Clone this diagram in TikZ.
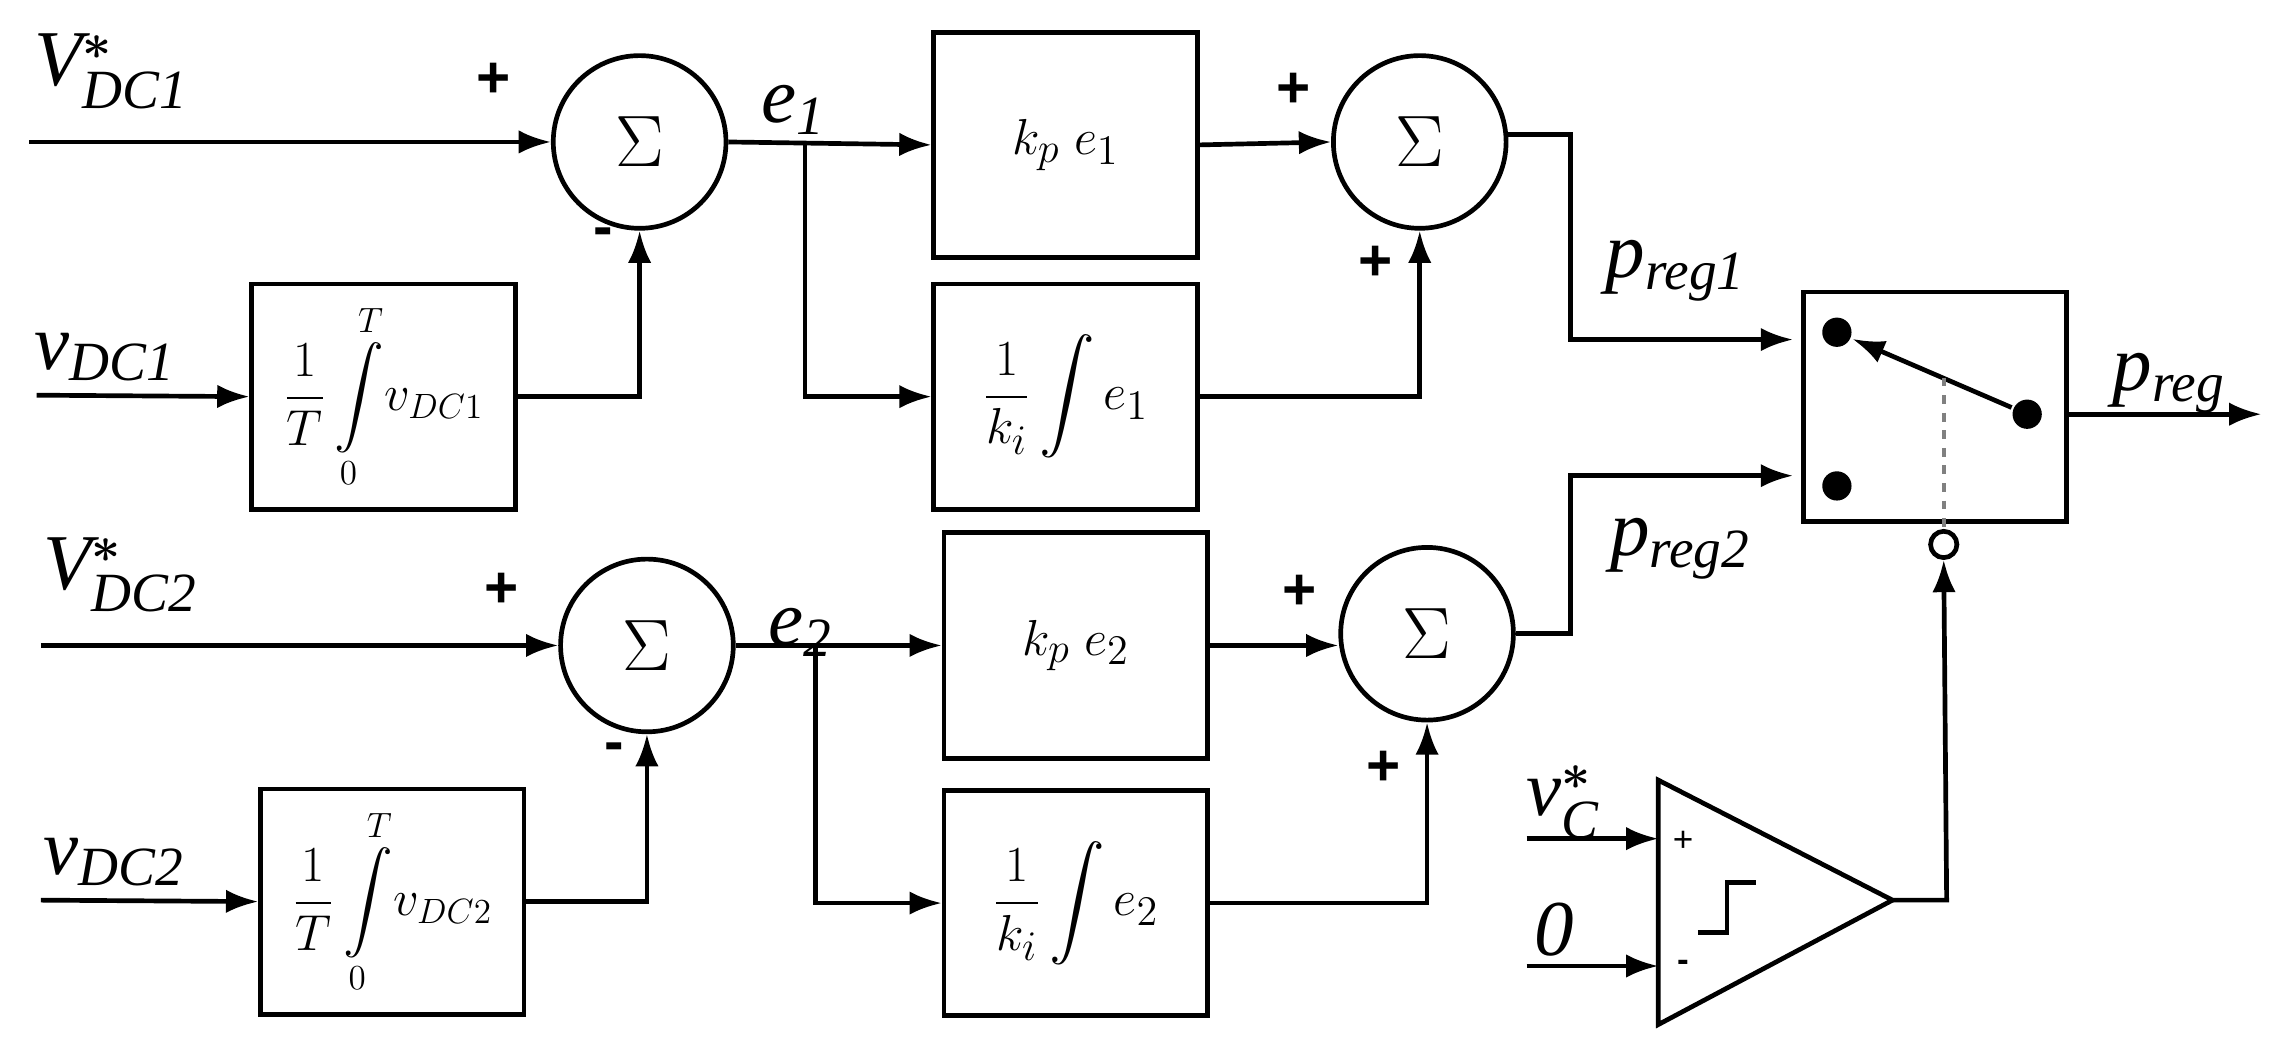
\documentclass[tikz,border=0pt]{standalone}
\usepackage{amsmath,amssymb}
\usepackage{fontspec}
\setmainfont{Liberation Serif}
\newfontfamily\sans{Liberation Sans}
\usetikzlibrary{arrows.meta}
\begin{document}
\begin{tikzpicture}[x=0.5pt,y=-0.5pt,line width=1.6pt,
  >={Latex[length=11pt,width=8pt]},
  sum/.style={circle,draw,minimum size=59pt,inner sep=0pt,font=\fontsize{34}{34}\selectfont},
  blk/.style={draw,minimum width=90pt,minimum height=77pt,inner sep=0pt,font=\fontsize{19}{20}\selectfont},
  lab/.style={font=\fontsize{27}{27}\selectfont\itshape,inner sep=0pt},
  sg/.style={font=\sans\bfseries\fontsize{20}{20}\selectfont,inner sep=0pt}]
\useasboundingbox (0,0) rectangle (1568,716);
% row 1
\node[sum] (s1) at (437,97) {$\Sigma$};
\node[sum] (s2) at (970,97) {$\Sigma$};
\node[blk] (kp1) at (728,99) {$k_{p}\;e_1$};
\node[blk] (ki1) at (728,271) {$\dfrac{1}{k_i}\displaystyle\int e_1$};
\node[blk,font=\fontsize{17}{18}\selectfont] (in1) at (262,271) {$\dfrac{1}{T}\displaystyle\int\limits_0^T\! v_{DC1}$};
\coordinate (a1) at (20,97);
\coordinate (b1) at (25,270);
\node[lab,anchor=south west] (L1) at (22,76) {V$^{\boldsymbol *}_{\textit{DC1}}$};
\node[lab,anchor=south west] (L2) at (22,262) {v$_{\textit{DC1}}$};
\draw[->] (a1) -- (s1.west);
\draw[->] (b1) -- (in1.west);
\draw[->] (in1.east) -| (s1.south);
\draw[->] (s1.east) -- (kp1.west);
\coordinate (br1) at (550,97);
\draw[->] (br1) |- (ki1.west);
\draw[->] (kp1.east) -- (s2.west);
\draw[->] (ki1.east) -| (s2.south);
\node[lab] (e1) at (542,75) {e$_{\textit{1}}$};
\node[sg] (p1) at (337,55) {+};
\node[sg] (m1) at (412,162) {-};
\node[sg] (p2) at (884,62) {+};
\node[sg] (p3) at (940,180) {+};
% row 2
\node[sum] (s3) at (442,441) {$\Sigma$};
\node[sum] (s4) at (975,433) {$\Sigma$};
\node[blk] (kp2) at (735,441) {$k_{p}\;e_2$};
\node[blk] (ki2) at (735,617) {$\dfrac{1}{k_i}\displaystyle\int e_2$};
\node[blk,font=\fontsize{17}{18}\selectfont] (in2) at (268,616) {$\dfrac{1}{T}\displaystyle\int\limits_0^T\! v_{DC2}$};
\coordinate (a2) at (28,441);
\coordinate (b2) at (28,615);
\node[lab,anchor=south west] (L3) at (28,420) {V$^{\boldsymbol *}_{\textit{DC2}}$};
\node[lab,anchor=south west] (L4) at (28,607) {v$_{\textit{DC2}}$};
\draw[->] (a2) -- (s3.west);
\draw[->] (b2) -- (in2.west);
\draw[->] (in2.east) -| (s3.south);
\draw[->] (s3.east) -- (kp2.west);
\coordinate (br2) at (557,441);
\draw[->] (br2) |- (ki2.west);
\draw[->] (kp2.east) -- (kp2.east -| s4.west);
\draw[->] (ki2.east) -| (s4.south);
\node[lab] (e2) at (547,432) {e$_{\textit{2}}$};
\node[sg] (p4) at (343,403) {+};
\node[sg] (m2) at (420,514) {-};
\node[sg] (p5) at (888,405) {+};
\node[sg] (p6) at (945,525) {+};
% switch
\node[draw,minimum width=90pt,minimum height=78.5pt,inner sep=0pt] (sw) at (1322,278) {};
\node[circle,fill,minimum size=10pt,inner sep=0pt] (d1) at (1255,227) {};
\node[circle,fill,minimum size=10pt,inner sep=0pt] (d2) at (1255,332) {};
\node[circle,fill,minimum size=10pt,inner sep=0pt] (d3) at (1385,283) {};
\draw[->] (d3) -- (d1);
\node[circle,draw,minimum size=9pt,inner sep=0pt] (oc) at (1328,372) {};
\draw[gray,dashed,line width=1.2pt] (1328,258) -- (oc.north);
\coordinate (o1) at (1545,283);
\draw[->] (sw.east |- d3) -- (o1);
\node[lab] (pr) at (1482,262) {p$_{\textit{reg}}$};
\coordinate (j1) at (1073,92);
\draw[->] (s2.east |- j1) -- (j1) |- (1225,232);
\coordinate (j2) at (1073,433);
\draw[->] (s4.east) -- (j2) |- (1225,325);
\node[lab] (pr1) at (1145,185) {p$_{\textit{reg1}}$};
\node[lab] (pr2) at (1148,375) {p$_{\textit{reg2}}$};
% comparator
\coordinate (t1) at (1133,533);
\coordinate (t2) at (1133,700);
\coordinate (t3) at (1293,615);
\draw (t1) -- (t2) -- (t3) -- cycle;
\draw (1160,637) -- (1180,637) -- (1180,603) -- (1200,603);
\node[font=\sans\fontsize{12}{12}\selectfont] (cp) at (1150,575) {+};
\node[font=\sans\bfseries\fontsize{12}{12}\selectfont] (cm) at (1150,660) {-};
\coordinate (c1) at (1043,573);
\coordinate (c2) at (1043,660);
\draw[->] (c1) -- (1133,573);
\draw[->] (c2) -- (1133,660);
\node[lab] (vc) at (1068,548) {v$^{\boldsymbol *}_{\textit{C}}$};
\node[lab] (z) at (1062,635) {0};
\draw[->] (t3) -- (1330,615) -- (oc.south);
\end{tikzpicture}
\end{document}
